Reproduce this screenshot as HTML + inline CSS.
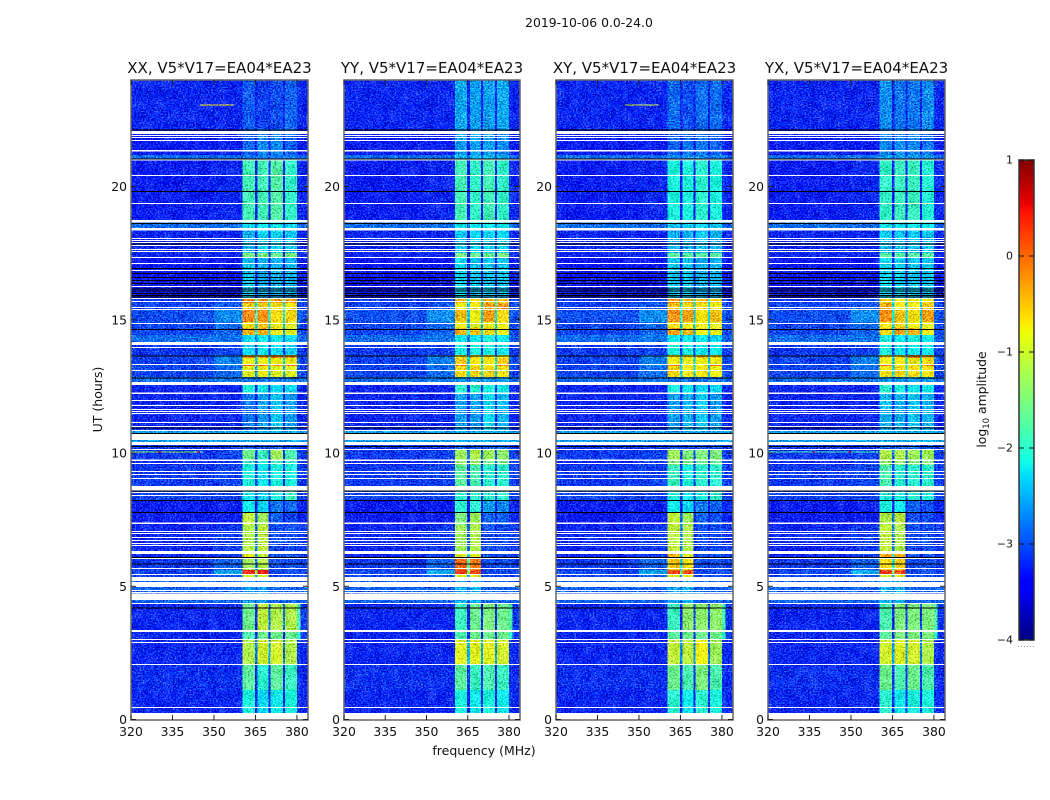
<!DOCTYPE html>
<html>
<head>
<meta charset="utf-8">
<title>2019-10-06 0.0-24.0</title>
<style>
html,body{margin:0;padding:0;background:#fff;}
svg{display:block;}
text{font-family:"DejaVu Sans","Liberation Sans",sans-serif;fill:#111;}
</style>
</head>
<body>
<svg id="chart" xmlns="http://www.w3.org/2000/svg" width="1050" height="800" viewBox="0 0 1050 800">
<rect x="0" y="0" width="1050" height="800" fill="#fff"/>
<text x="589" y="27" font-size="12.4" text-anchor="middle">2019-10-06 0.0-24.0</text>
<text x="484" y="755" font-size="12.5" text-anchor="middle">frequency (MHz)</text>
<text x="102" y="399.5" font-size="12.5" text-anchor="middle" transform="rotate(-90 102 399.5)">UT (hours)</text>
<text x="986" y="399.5" font-size="12.4" text-anchor="middle" transform="rotate(-90 986 399.5)">log<tspan font-size="8.5" dy="3">10</tspan><tspan dy="-3"> amplitude</tspan></text>
<defs id="defs"></defs>
<g id="panels"></g>
<g id="colorbar"></g>
</svg>
<script>
// ---- categories and tick labels ----
const polarisations = ["XX", "YY", "XY", "YX"];
const baselineLabel = "V5*V17=EA04*EA23";
const freqTicks = [320, 335, 350, 365, 380];
const hourTicks = [0, 5, 10, 15, 20];
const colorbarTicks = [1, 0, -1, -2, -3, -4];

// ---- time segment edges, UT hours (top to bottom) ----
const timeEdges = [24,22.16,21.18,21.03,18.74,18.37,17.50,17.32,15.82,15.63,15.37,14.92,14.69,14.43,14.05,13.68,13.56,13.34,13.27,12.85,12.55,12.21,10.86,10.41,10.15,9.74,9.55,8.61,8.24,7.79,7.30,6.32,6.10,5.61,5.42,5.23,4.37,3.36,2.98,2.08,1.11,0.24];

// ---- frequency channels in MHz (start, end) ----
const channels = [
 ["far",320,350],["near",350,360.4],["b0",360.4,364.8],["gap",364.8,365.8],["b1",365.8,369.8],["gap",369.8,370.5],
 ["b2",370.5,374.9],["gap",374.9,375.6],["b3",375.6,380],["edge",380,381.2],["right",381.2,384.1]
];

// ---- log10 amplitude outside the spectral windows per segment: far, near, edge, right ----
const offBandLevels = [
[-3.2,-3.2,-3.15,-3.2],[-3.25,-3.25,-3.2,-3.25],[-2.85,-2.85,-2.9,-2.9],[-3.25,-3.2,-3.15,-3.2],[-2.85,-2.85,-2.85,-2.9],
[-3.2,-3.2,-3.15,-3.2],[-3.2,-3.2,-3.15,-3.2],[-3.3,-3.3,-3.25,-3.25],[-3.1,-3.0,-3.05,-3.1],[-3.05,-2.95,-3.0,-3.05],
[-3.0,-2.7,-2.85,-3.0],[-3.05,-2.85,-2.95,-3.05],[-3.05,-2.9,-2.95,-3.05],[-2.85,-2.8,-2.85,-2.9],[-3.1,-3.05,-3.05,-3.1],
[-3.05,-2.75,-2.8,-3.0],[-3.05,-2.75,-2.85,-3.05],[-3.05,-2.75,-2.85,-3.05],[-3.05,-2.85,-2.95,-3.05],[-2.85,-2.8,-2.85,-2.9],
[-3.2,-3.2,-3.15,-3.2],[-3.2,-3.2,-3.2,-3.2],[-2.6,-2.6,-2.6,-2.6],[-3.1,-3.1,-3.1,-3.1],[-3.1,-3.05,-3.05,-3.1],
[-3.2,-3.1,-3.05,-3.1],[-3.1,-3.05,-3.05,-3.1],[-3.05,-3.05,-3.05,-3.05],[-3.25,-3.25,-3.2,-3.2],[-3.25,-3.25,-3.2,-3.2],
[-3.2,-3.1,-3.1,-3.1],[-3.2,-3.1,-3.1,-3.1],[-3.1,-2.9,-3.05,-3.05],[-3.05,-2.55,-3.05,-3.05],[-3.05,-2.9,-3.05,-3.05],
[-2.9,-2.9,-2.9,-2.9],[-3.2,-3.2,-1.8,-3.1],[-3.2,-3.2,-2.0,-3.1],[-3.2,-3.2,-3.1,-3.2],[-3.15,-3.15,-3.1,-3.2],
[-3.2,-3.2,-3.1,-3.2]
];

// ---- log10 amplitude of the four spectral windows per segment, one array per polarisation ----
const bandLevelsXX = [
[-2.95,-3.05,-3.0,-2.9],[-2.9,-2.7,-2.7,-2.9],[-2.8,-2.8,-2.8,-2.8],[-1.85,-1.85,-1.75,-1.95],[-2.3,-2.2,-2.2,-2.3],
[-2.5,-2.3,-2.3,-2.4],[-1.5,-1.5,-1.6,-1.5],[-2.4,-2.5,-2.5,-2.5],[-0.2,-0.2,-0.3,-0.3],[-0.6,-0.6,-0.7,-0.7],
[-0.15,-0.2,-0.6,-0.6],[-0.7,-0.5,-0.8,-0.9],[-0.4,-0.4,-0.8,-0.9],[-2.3,-2.2,-2.2,-2.3],[-2.3,-2.2,-2.3,-2.4],
[-0.2,-0.3,-0.1,-0.2],[-0.8,-0.8,-0.8,-0.8],[0,0,-0.3,0],[-0.9,-0.8,-0.9,-0.9],[-2.8,-2.8,-2.8,-2.8],
[-2.1,-2.2,-2.3,-2.3],[-2.8,-2.6,-2.4,-2.6],[-2.5,-2.5,-2.5,-2.5],[-3.0,-3.0,-3.0,-3.0],[-1.6,-1.9,-1.3,-1.8],
[-2.0,-2.1,-1.9,-2.0],[-2.1,-2.2,-2.1,-2.1],[-2.2,-2.3,-2.1,-1.9],[-2.2,-2.3,-2.8,-2.9],[-1.1,-1.3,-2.9,-3.0],
[-1.2,-1.1,-3.0,-3.0],[-0.8,-1.1,-3.0,-3.0],[-1.3,-1.2,-3.0,-3.0],[0.35,0.35,-3.0,-3.0],[-1.0,-1.0,-3.0,-3.0],
[-2.6,-2.6,-2.9,-2.9],[-1.6,-1.1,-1.2,-1.2],[-1.8,-1.6,-1.6,-1.6],[-1.2,-1.0,-1.0,-1.2],[-1.7,-2.0,-1.7,-1.9],
[-2.1,-2.3,-2.2,-2.1]
];
const bandLevelsYY = [
[-2.55,-2.6,-2.6,-2.55],[-2.6,-2.6,-2.6,-2.7],[-2.5,-2.5,-2.5,-2.5],[-1.85,-1.95,-1.85,-1.95],[-2.2,-2.2,-2.2,-2.2],
[-2.4,-2.3,-2.3,-2.3],[-1.5,-1.6,-1.6,-1.5],[-2.3,-2.4,-2.4,-2.4],[-0.4,-0.6,-0.4,-0.5],[-0.8,-0.7,-0.3,-0.3],
[-0.5,-0.8,-0.3,-0.6],[-0.8,-0.9,-0.8,-0.8],[-0.4,-0.5,-0.6,-0.8],[-2.2,-2.2,-2.1,-2.2],[-2.1,-2.1,-2.1,-2.2],
[-0.7,-0.6,-0.6,-0.7],[-0.5,-0.7,-0.7,-0.5],[-0.1,-0.7,-0.7,-0.2],[-0.6,-0.6,-0.6,-0.7],[-2.6,-2.6,-2.6,-2.6],
[-2.0,-2.0,-2.1,-2.2],[-2.6,-2.6,-2.3,-2.5],[-2.5,-2.5,-2.5,-2.5],[-2.9,-2.9,-2.9,-2.9],[-1.3,-1.2,-1.3,-1.4],
[-1.4,-1.4,-1.6,-1.6],[-1.7,-1.8,-2.0,-2.0],[-2.0,-2.0,-2.0,-2.0],[-2.0,-2.0,-2.6,-2.7],[-1.5,-1.3,-2.9,-2.9],
[-1.3,-1.2,-3.0,-3.0],[-0.9,-0.9,-3.0,-3.0],[0.0,-0.1,-3.0,-3.0],[0.25,0.2,-3.0,-3.0],[-0.9,-0.9,-3.0,-3.0],
[-2.5,-2.5,-2.9,-2.9],[-1.9,-1.6,-1.5,-1.6],[-1.8,-1.6,-1.6,-1.6],[-0.9,-0.9,-0.9,-1.0],[-1.7,-1.9,-1.8,-1.9],
[-2.1,-2.2,-2.1,-2.2]
];
const bandLevelsXY = [
[-2.85,-3.0,-2.85,-2.85],[-2.9,-2.8,-2.8,-2.9],[-2.7,-2.7,-2.7,-2.7],[-2.1,-2.1,-2.0,-2.1],[-2.4,-2.3,-2.3,-2.4],
[-2.5,-2.5,-2.4,-2.5],[-1.7,-1.7,-1.7,-1.7],[-2.4,-2.4,-2.5,-2.5],[-0.2,-0.4,-0.5,-0.6],[-0.5,-0.6,-0.7,-0.8],
[-0.2,-0.3,-0.7,-0.5],[-0.7,-0.8,-0.8,-0.9],[-0.3,-0.4,-0.8,-0.8],[-2.2,-2.2,-2.2,-2.3],[-2.1,-2.1,-2.2,-2.2],
[-0.7,-0.7,-0.5,-0.6],[-0.8,-0.8,-0.8,-0.8],[-0.1,-0.8,-0.8,-0.1],[-0.6,-0.7,-0.7,-0.8],[-2.8,-2.8,-2.8,-2.8],
[-2.1,-2.2,-2.3,-2.3],[-2.6,-2.5,-2.4,-2.6],[-2.6,-2.6,-2.6,-2.6],[-3.0,-3.0,-3.0,-3.0],[-1.3,-1.5,-1.5,-1.5],
[-1.5,-1.6,-1.7,-1.7],[-1.9,-2.1,-2.0,-2.0],[-2.1,-2.2,-2.1,-2.0],[-2.2,-2.3,-2.8,-2.9],[-1.1,-1.3,-2.9,-3.0],
[-1.1,-1.2,-3.0,-3.0],[-0.4,-0.9,-3.0,-3.0],[-0.5,-0.7,-3.0,-3.0],[0.15,0.05,-3.0,-3.0],[-0.9,-0.9,-3.0,-3.0],
[-2.6,-2.5,-2.9,-2.9],[-1.9,-1.4,-1.4,-1.4],[-1.7,-1.6,-1.6,-1.6],[-1.1,-1.1,-0.8,-1.3],[-1.6,-1.8,-1.5,-1.8],
[-2.0,-2.2,-2.0,-2.1]
];
const bandLevelsYX = [
[-2.7,-2.8,-2.8,-2.7],[-2.7,-2.7,-2.7,-2.8],[-2.6,-2.6,-2.6,-2.6],[-1.95,-1.9,-1.9,-2.05],[-2.2,-2.2,-2.2,-2.2],
[-2.4,-2.4,-2.4,-2.4],[-1.7,-1.7,-1.7,-1.7],[-2.3,-2.3,-2.4,-2.4],[-0.6,-0.7,-0.7,-0.7],[-0.4,-0.7,-0.8,-0.5],
[-0.2,-0.5,-0.7,-0.3],[-0.7,-0.6,-0.8,-0.9],[-0.6,-0.3,-0.4,-0.8],[-2.1,-2.2,-2.1,-2.2],[-2.1,-2.2,-2.2,-2.2],
[-0.6,-0.6,-0.2,-0.3],[-0.8,-0.7,-0.8,-0.7],[-0.1,-0.7,-0.7,-0.1],[-0.7,-0.6,-0.6,-0.7],[-2.6,-2.6,-2.6,-2.6],
[-2.0,-2.1,-2.2,-2.2],[-2.5,-2.5,-2.4,-2.5],[-2.5,-2.5,-2.5,-2.5],[-2.9,-2.9,-2.9,-2.9],[-1.2,-1.2,-1.3,-1.3],
[-1.4,-1.4,-1.5,-1.5],[-1.8,-2.0,-2.0,-2.0],[-2.1,-2.1,-2.0,-2.1],[-2.1,-2.2,-2.9,-3.0],[-1.2,-1.1,-3.0,-3.0],
[-1.1,-1.2,-3.0,-3.0],[-0.3,-0.4,-3.0,-3.0],[-0.6,-0.5,-3.0,-3.0],[0.2,0.15,-3.0,-3.0],[-1.0,-0.9,-3.0,-3.0],
[-2.5,-2.5,-2.9,-2.9],[-1.8,-1.5,-1.5,-1.5],[-1.7,-1.5,-1.5,-1.5],[-1.0,-0.9,-1.0,-1.2],[-1.6,-1.8,-1.6,-1.8],
[-2.0,-2.2,-2.1,-2.1]
];
const bandLevels = [bandLevelsXX, bandLevelsYY, bandLevelsXY, bandLevelsYX];

// ---- narrow interference streaks: hour, MHz start, MHz end, level, per polarisation ----
const streaksXX = [[23.06,345,357,-0.6],[10.04,320,346,-1.4],[10.04,330,331,0.4],[10.04,344,345,0.6]];
const streaksYY = [];
const streaksXY = [[23.06,345,357,-1.0]];
const streaksYX = [[10.04,320,360,-1.8],[10.04,336,337,0.3],[10.04,349,350,0.5]];
const streaks = [streaksXX, streaksYY, streaksXY, streaksYX];

// ---- flagged (blank) time ranges, hours ----
const flaggedHours = [[22.08,21.97],[21.93,21.90],[21.86,21.82],[21.75,21.71],[21.37,21.31],[21.03,20.98],[20.43,20.39],[19.38,19.34],[18.74,18.65],[18.44,18.35],[18.07,18.03],[17.99,17.95],[17.92,17.88],[17.80,17.77],[17.65,17.62],[17.58,17.54],[17.35,17.32],[17.13,17.09],[16.87,16.83],[16.27,16.23],[15.82,15.78],[15.71,15.67],[15.48,15.44],[15.40,15.37],[14.88,14.84],[14.17,14.05],[13.98,13.94],[13.34,13.30],[13.11,13.08],[12.66,12.55],[12.27,12.21],[11.99,11.95],[11.80,11.76],[11.65,11.61],[11.58,11.54],[11.50,11.46],[11.16,11.13],[11.01,10.98],[10.86,10.83],[10.71,10.49],[10.41,10.30],[10.15,10.11],[9.76,9.70],[9.62,9.59],[9.32,9.29],[9.21,9.18],[9.06,9.02],[8.76,8.57],[8.54,8.50],[8.42,8.39],[7.39,7.34],[7.07,7.04],[7.00,6.96],[6.85,6.81],[6.74,6.70],[6.62,6.59],[6.55,6.51],[6.32,6.21],[6.06,6.02],[5.68,5.65],[5.46,5.42],[5.35,5.20],[5.16,4.97],[4.86,4.82],[4.78,4.75],[4.73,4.48],[4.37,4.33],[3.36,3.28],[3.02,2.98],[2.91,2.87],[2.08,2.05],[0.47,0.43],[0.24,0]];

// ---- zero-amplitude (black) time ranges, hours ----
const blackHours = [22.14,21.05,19.83,18.63,17.86,16.94,16.75,16.60,16.49,16.38,16.17,16.10,16.00,15.93,15.87,14.66,13.66,12.84,10.96,10.75,10.26,8.60,8.24,7.79,6.10,5.85,4.20];

// ---- axes ----
const svgNS = "http://www.w3.org/2000/svg";
const panelLeft = [131, 344, 556, 768];
const panelWidth = [177, 176, 177, 177];
const plotTop = 80, plotBottom = 720;
function xAxis(mhz, p){ return panelLeft[p] + (mhz - 320) * panelWidth[p] / 64; }
function yAxis(hour){ return 719.5 - hour * 26.65; }
function jet(v){
  const t = Math.max(0, Math.min(1, (v + 4) / 5));
  const ch = function(pts){
    for (let i = 1; i < pts.length; i++) {
      if (t <= pts[i][0]) {
        const a = pts[i-1], b = pts[i];
        return Math.round(255 * (a[1] + (b[1]-a[1]) * (t-a[0]) / (b[0]-a[0])));
      }
    }
    return Math.round(255 * pts[pts.length-1][1]);
  };
  const r = ch([[0,0],[0.35,0],[0.66,1],[0.89,1],[1,0.5]]);
  const g = ch([[0,0],[0.125,0],[0.375,1],[0.64,1],[0.91,0],[1,0]]);
  const b = ch([[0,0.5],[0.11,1],[0.34,1],[0.65,0],[1,0]]);
  return "rgb(" + r + "," + g + "," + b + ")";
}
function make(tag, attrs, parent){
  const el = document.createElementNS(svgNS, tag);
  for (const k in attrs) el.setAttribute(k, attrs[k]);
  parent.appendChild(el);
  return el;
}
function levelFor(kind, row, p){
  const off = offBandLevels[row], bands = bandLevels[p][row];
  if (kind === "far") return off[0];
  if (kind === "near") return off[1];
  if (kind === "edge") return off[2];
  if (kind === "right") return off[3];
  return bands[+kind.slice(1)];
}

const panelsG = document.getElementById("panels");
const defs = document.getElementById("defs");

polarisations.forEach(function(pol, p){
  const L = panelLeft[p], W = panelWidth[p];

  const filter = make("filter", {id:"grain"+p, filterUnits:"userSpaceOnUse", x:L, y:plotTop, width:W, height:plotBottom-plotTop, "color-interpolation-filters":"sRGB"}, defs);
  make("feTurbulence", {type:"fractalNoise", baseFrequency:"0.6 0.7", numOctaves:"2", seed:String(3+p*5), result:"t"}, filter);
  make("feColorMatrix", {in:"t", type:"matrix", values:"0.6 0 0 0 0.2  1 0 0 0 0  0.9 0 0 0 0.05  0 0 0 0 1", result:"n"}, filter);
  make("feComposite", {in:"SourceGraphic", in2:"n", operator:"arithmetic", k1:"0", k2:"1", k3:"1.3", k4:"-0.65", result:"fine"}, filter);
  make("feTurbulence", {type:"fractalNoise", baseFrequency:"0.11 0.09", numOctaves:"2", seed:String(11+p*3), result:"t2"}, filter);
  make("feColorMatrix", {in:"t2", type:"matrix", values:"1 0 0 0 0  1 0 0 0 0  1 0 0 0 0  0 0 0 0 1", result:"n2"}, filter);
  make("feComposite", {in:"fine", in2:"n2", operator:"arithmetic", k1:"0", k2:"1", k3:"0.25", k4:"-0.125"}, filter);

  const panel = make("g", {}, panelsG);
  
  

  const heat = make("g", {filter:"url(#grain"+p+")", "shape-rendering":"crispEdges"}, panel);
  
  

  for (let r = 0; r < timeEdges.length - 1; r++) {
    const y0 = yAxis(timeEdges[r]), y1 = yAxis(timeEdges[r+1]);
    channels.forEach(function(c, ci){
      let lvl;
      if (c[0] === "gap") {
        const a = levelFor(channels[ci-1][0], r, p), b = levelFor(channels[ci+1][0], r, p);
        lvl = Math.max(offBandLevels[r][0], Math.min(a, b) - 1.6);
      } else {
        lvl = levelFor(c[0], r, p);
      }
      const x0 = xAxis(c[1], p), x1 = Math.min(xAxis(c[2], p), L + W);
      const cell = make("rect", {x:x0.toFixed(2), y:y0.toFixed(2), width:(x1-x0).toFixed(2), height:(y1-y0).toFixed(2), fill:jet(lvl)}, heat);
      
      
    });
  }
  streaks[p].forEach(function(s){
    const st = make("rect", {x:xAxis(s[1],p).toFixed(2), y:(yAxis(s[0])-0.5).toFixed(2), width:(xAxis(s[2],p)-xAxis(s[1],p)).toFixed(2), height:1, fill:jet(s[3])}, heat);
    
    
  });

  const overlays = make("g", {"shape-rendering":"crispEdges"}, panel);
  
  
  flaggedHours.forEach(function(f){
    const y0 = yAxis(f[0]), y1 = Math.min(yAxis(f[1]), plotBottom);
    const fl = make("rect", {x:L, y:y0.toFixed(2), width:W, height:Math.max(1,(y1-y0)).toFixed(2), fill:"#fff"}, overlays);
    
    
  });
  blackHours.forEach(function(h){
    const bl = make("rect", {x:L, y:yAxis(h).toFixed(2), width:W, height:1, fill:"#000"}, overlays);
    
    
  });

  const frame = make("rect", {x:L, y:plotTop, width:W, height:plotBottom-plotTop, fill:"none", stroke:"#666", "stroke-width":"1.5"}, panel);
  
  

  freqTicks.forEach(function(f){
    const x = xAxis(f, p);
    const t1 = make("line", {x1:x, x2:x, y1:plotBottom, y2:plotBottom-5, stroke:"#222", "stroke-width":"1"}, panel);
    
    
    const t2 = make("line", {x1:x, x2:x, y1:plotTop, y2:plotTop+5, stroke:"#222", "stroke-width":"1"}, panel);
    
    
    const lab = make("text", {x:x, y:736, "font-size":"12.4", "text-anchor":"middle"}, panel);
    lab.textContent = String(f);
    
    
  });
  hourTicks.forEach(function(h){
    const y = yAxis(h);
    const t1 = make("line", {x1:L, x2:L+5, y1:y, y2:y, stroke:"#222", "stroke-width":"1"}, panel);
    
    
    const t2 = make("line", {x1:L+W-5, x2:L+W, y1:y, y2:y, stroke:"#222", "stroke-width":"1"}, panel);
    
    
    const lab = make("text", {x:L-4, y:y+4.5, "font-size":"12.4", "text-anchor":"end"}, panel);
    lab.textContent = String(h);
    
    
  });

  const title = make("text", {x:L+W/2, y:73, "font-size":"15", "text-anchor":"middle"}, panel);
  title.textContent = pol + ", " + baselineLabel;
  
  
});

// ---- colorbar ----
const cbG = document.getElementById("colorbar");


const cbX = 1019, cbW = 15, cbTop = 160, cbBottom = 640;
function cbY(v){ return cbTop + (1 - v) * (cbBottom - cbTop) / 5; }
const grad = make("linearGradient", {id:"jetGrad", x1:"0", y1:"1", x2:"0", y2:"0"}, defs);
[0,0.11,0.125,0.2,0.34,0.375,0.5,0.64,0.66,0.75,0.89,0.91,1].forEach(function(t){
  make("stop", {offset:t, "stop-color":jet(-4 + 5*t)}, grad);
});
const cbRect = make("rect", {x:cbX, y:cbTop, width:cbW, height:cbBottom-cbTop, fill:"url(#jetGrad)", stroke:"#333", "stroke-width":"1.5"}, cbG);


colorbarTicks.forEach(function(v){
  const y = cbY(v);
  const lab = make("text", {x:1013, y:y+3.5, "font-size":"11", "text-anchor":"end"}, cbG);
  lab.textContent = v < 0 ? "\u2212" + Math.abs(v) : String(v);
  
  
  const l1 = make("line", {x1:cbX, x2:cbX+5, y1:y, y2:y, stroke:"#111", "stroke-width":"1"}, cbG);
  
  
  const l2 = make("line", {x1:cbX+cbW-5, x2:cbX+cbW, y1:y, y2:y, stroke:"#111", "stroke-width":"1"}, cbG);
  
  
});
const dots = make("line", {x1:1018, x2:1035, y1:646.5, y2:646.5, stroke:"#999", "stroke-width":"1", "stroke-dasharray":"1 2"}, cbG);


</script>
</body>
</html>
